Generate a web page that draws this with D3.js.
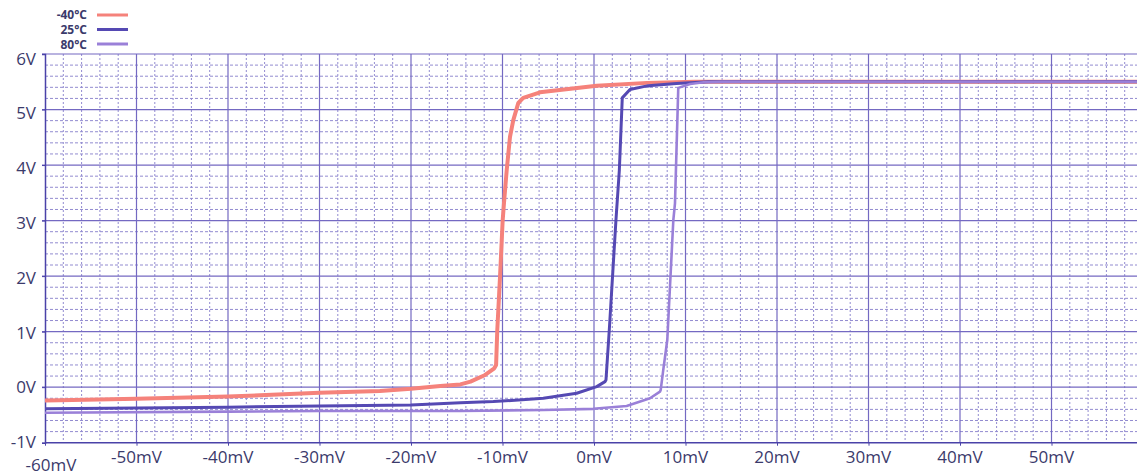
<!DOCTYPE html>
<html>
<head>
<meta charset="utf-8">
<script src="https://cdn.jsdelivr.net/npm/d3@7/dist/d3.min.js"></script>
<style>
  body { margin: 0; background: #fff; }
  svg { display: block; }
  .tick-label { font-family: "Open Sans", sans-serif; font-size: 17px; fill: #3b3a6b; }
  .legend-label { font-family: "Open Sans", sans-serif; font-size: 12px; font-weight: bold; fill: #3b3a6b; }
</style>
</head>
<body>
<svg id="chart" width="1137" height="475"></svg>
<script>
// Comparator output vs input voltage at three temperatures

const seriesNames = ["-40°C", "25°C", "80°C"]
const seriesColors = ["#f5827b", "#5549b3", "#9a80d8"]
const seriesWidths = [4, 3, 2.6]

const xTicks = [-60, -50, -40, -30, -20, -10, 0, 10, 20, 30, 40, 50]
const yTicks = [-1, 0, 1, 2, 3, 4, 5, 6]

// -40°C
const mvCold = [-60, -57, -50, -40, -30, -23.4, -20, -16.8, -14.6, -13.5, -11.9, -10.9, -10.7, -10.57, -10.27, -9.98, -9.84, -9.54, -9.18, -8.82, -8.27, -7.73, -5.9, 0.3, 5.8, 11, 60]
const vCold = [-0.24, -0.23, -0.21, -0.17, -0.10, -0.07, -0.03, 0.02, 0.05, 0.10, 0.22, 0.34, 0.40, 1.03, 1.99, 3.01, 3.31, 3.91, 4.51, 4.81, 5.12, 5.21, 5.31, 5.43, 5.48, 5.5, 5.5]
// 25°C
const mvRoom = [-60, -40, -30, -20, -14.6, -11, -5.54, -1.89, 0.3, 1.2, 1.31, 1.67, 2.4, 2.77, 3.09, 3.93, 5.93, 9, 12.5, 60]
const vRoom = [-0.39, -0.36, -0.34, -0.32, -0.28, -0.26, -0.20, -0.11, 0.01, 0.10, 0.13, 1.03, 3.01, 3.91, 5.21, 5.36, 5.43, 5.47, 5.5, 5.5]
// 80°C
const mvHot = [-60, -40, -30, -20, -14.6, -5.5, -0.08, 3.57, 6.12, 7.21, 7.29, 7.57, 8.01, 8.67, 8.85, 9.21, 10.5, 12, 14, 60]
const vHot = [-0.46, -0.44, -0.43, -0.43, -0.43, -0.41, -0.39, -0.34, -0.2, -0.08, -0.05, 0.31, 0.85, 3.01, 3.31, 5.39, 5.46, 5.49, 5.5, 5.5]

const series = [[mvCold, vCold], [mvRoom, vRoom], [mvHot, vHot]]

const svg = d3.select("#chart")
const plotLeft = 45, plotTop = 54, plotBottom = 442.7
const x = d3.scaleLinear().domain([-60, 60]).range([plotLeft, plotLeft + 120 * 9.15])
const y = d3.scaleLinear().domain([-1, 6]).range([plotBottom, plotTop])
// the y labels drift slightly from their grid lines in the original
const yLabel = d3.scaleLinear().domain([-1, 6]).range([plotBottom + 5.5, plotTop + 10.5])

svg.append("rect").attr("width", 1137).attr("height", 475).attr("fill", "#fff")

// minor grid (dotted), every 2mV / 0.2V
const xMinor = d3.range(-60, 60.01, 2).filter(v => v % 10 != 0)
const yMinor = d3.range(-1, 6.01, 0.2).map(v => +v.toFixed(1)).filter(v => Math.abs(v - Math.round(v)) > 0.01)

const grid = svg.append("g")
grid.selectAll(".vminor").data(xMinor).enter().append("line")
  .attr("x1", d => x(d)).attr("x2", d => x(d))
  .attr("y1", plotTop).attr("y2", plotBottom)
  .attr("stroke", "#928bd0").attr("stroke-width", 1).attr("stroke-dasharray", "2,2")
grid.selectAll(".hminor").data(yMinor).enter().append("line")
  .attr("x1", plotLeft).attr("x2", 1137)
  .attr("y1", d => y(d)).attr("y2", d => y(d))
  .attr("stroke", "#928bd0").attr("stroke-width", 1).attr("stroke-dasharray", "3,2")

// major grid
grid.selectAll(".vmajor").data(xTicks.slice(1)).enter().append("line")
  .attr("x1", d => x(d)).attr("x2", d => x(d))
  .attr("y1", plotTop).attr("y2", plotBottom)
  .attr("stroke", "#7469c2").attr("stroke-width", 1.2)
grid.selectAll(".hmajor").data(yTicks.slice(1)).enter().append("line")
  .attr("x1", plotLeft - 3).attr("x2", 1137)
  .attr("y1", d => y(d)).attr("y2", d => y(d))
  .attr("stroke", "#7469c2").attr("stroke-width", 1.2)

// axes
const xAxis = d3.axisBottom(x).tickValues(xTicks).tickSize(3).tickFormat("")
const yAxis = d3.axisLeft(y).tickValues(yTicks).tickSize(3).tickFormat("")
svg.append("g").attr("transform", "translate(0," + plotBottom + ")").call(xAxis)
  .call(g => g.select(".domain").attr("stroke", "#4a42a8").attr("stroke-width", 1.5).attr("d", "M" + plotLeft + ",0H1137"))
  .call(g => g.selectAll(".tick line").attr("stroke", "#4a42a8"))
svg.append("g").attr("transform", "translate(" + plotLeft + ",0)").call(yAxis)
  .call(g => g.select(".domain").attr("stroke", "#4a42a8").attr("stroke-width", 1.5))
  .call(g => g.selectAll(".tick line").attr("stroke", "#4a42a8"))

// tick labels
svg.append("g").selectAll("text").data(xTicks).enter().append("text")
  .attr("class", "tick-label")
  .attr("x", d => x(d) + (d == -60 ? 6 : 0))
  .attr("y", d => d == -60 ? 471 : 463)
  .attr("text-anchor", "middle")
  .text(d => d + "mV")
svg.append("g").selectAll("text").data(yTicks).enter().append("text")
  .attr("class", "tick-label")
  .attr("x", 36)
  .attr("y", d => yLabel(d))
  .attr("text-anchor", "end")
  .text(d => d + "V")

// curves
const line = d3.line().x(d => x(d[0])).y(d => y(d[1]))
svg.append("defs").append("clipPath").attr("id", "plot")
  .append("rect").attr("x", plotLeft).attr("y", plotTop - 5).attr("width", 1137 - plotLeft).attr("height", plotBottom - plotTop + 5)
const curves = svg.append("g").attr("clip-path", "url(#plot)")
series.forEach(function(s, i) {
  const pts = s[0].map((v, j) => [v, s[1][j]])
  curves.append("path").datum(pts)
    .attr("d", line)
    .attr("fill", "none")
    .attr("stroke", seriesColors[i])
    .attr("stroke-width", seriesWidths[i])
    .attr("stroke-linejoin", "round")
})

// legend
const legend = svg.append("g")
seriesNames.forEach(function(name, i) {
  legend.append("text").attr("class", "legend-label")
    .attr("x", 87).attr("y", 19 + i * 15)
    .attr("text-anchor", "end").text(name)
  legend.append("line")
    .attr("x1", 97).attr("x2", 128)
    .attr("y1", 15 + i * 14.5).attr("y2", 15 + i * 14.5)
    .attr("stroke", seriesColors[i]).attr("stroke-width", 3)
})
</script>
</body>
</html>
